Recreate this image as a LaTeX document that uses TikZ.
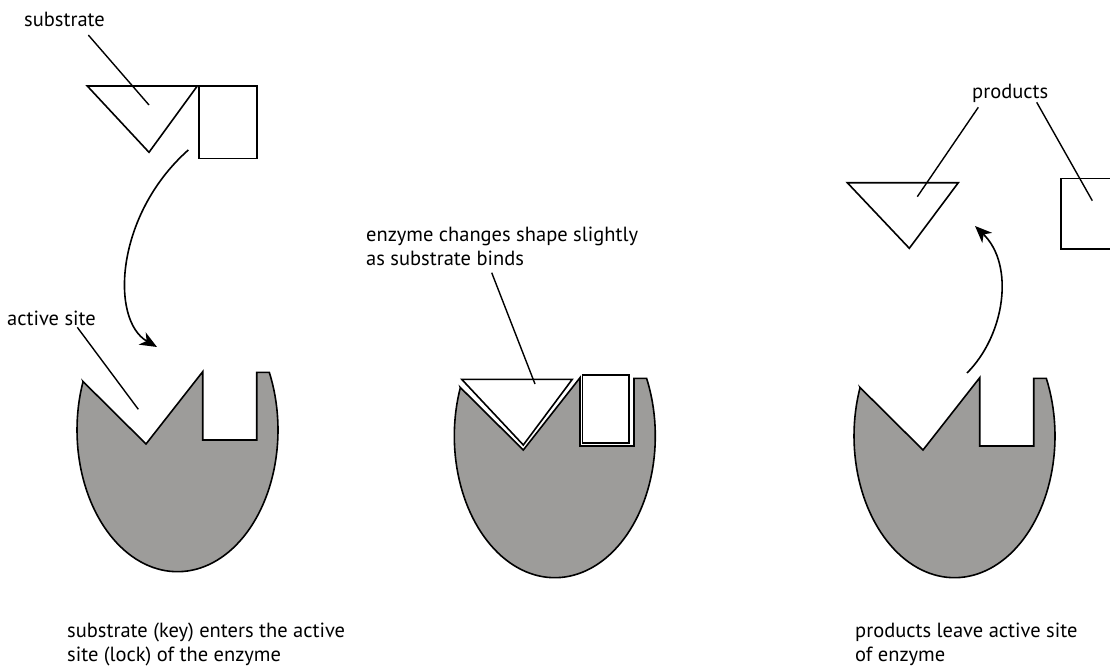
\documentclass[tikz,border=0pt]{standalone}
\usepackage{fontspec}
\setmainfont{PT Sans}
\usetikzlibrary{arrows.meta}
\definecolor{enzgray}{RGB}{157,156,154}
\tikzset{
  enzyme/.style={draw=black, fill=enzgray, line width=1.6, line join=miter},
  piece/.style={draw=black, fill=white, line width=1.6, line join=miter},
  lbl/.style={font=\fontsize{20.5}{24.5}\selectfont, inner sep=0pt, align=left},
  pointer/.style={draw=black, line width=1.4},
  move/.style={draw=black, line width=1.6, -{Stealth[length=17, width=14, inset=5]}}
}
\newcommand\enzymeat[1]{%
  \begin{scope}[shift={#1}]
    \filldraw[enzyme] ({177.5+100.5*cos(200)},{430+141.7*sin(200)}) -- (146,444) -- (202.7,371.7)
      -- (202.7,440) -- (256.7,440) -- (256.7,{430+141.7*sin(-24)})
      -- plot[domain=-24:200, samples=90] ({177.5+100.5*cos(\x)},{430+141.7*sin(\x)}) -- cycle;
  \end{scope}}
\begin{document}
\begin{tikzpicture}[x=1pt, y=-1pt]
\useasboundingbox (0,0) rectangle (1110,669);
\clip (0,0) rectangle (1110,669);
% enzymes
\enzymeat{(0,0)}
\enzymeat{(377.3,6)}
\enzymeat{(777,6)}
% substrate
\filldraw[piece] (87.3,86) -- (197.3,86) -- (149,152.3) -- cycle;
\filldraw[piece] (199,86) rectangle (256.7,158.3);
% bound substrate
\filldraw[piece] (461.7,379.3) -- (572.3,379.3) -- (523.3,445) -- cycle;
\filldraw[piece] (582.3,375) rectangle (629,442.7);
% products
\filldraw[piece] (847.3,182.7) -- (958.3,182.7) -- (909.3,248.3) -- cycle;
\filldraw[piece] (1060.7,178.3) rectangle (1120,249);
% labels
\node[lbl, anchor=base west] (tsub) at (24,27) {substrate};
\node[lbl, anchor=base west] (tact) at (7,325) {active site};
\node[lbl, anchor=base west] (tchg) at (366,265.5) {enzyme changes shape slightly\\as substrate binds};
\node[lbl, anchor=base west] (tprod) at (972,98) {products};
\node[lbl, anchor=base west] (tleft) at (67,661.5) {substrate (key) enters the active\\site (lock) of the enzyme};
\node[lbl, anchor=base west] (tright) at (855,661.5) {products leave active site\\of enzyme};
% pointer lines
\coordinate (s0) at (88.3,35);   \coordinate (s1) at (149,105);
\coordinate (a0) at (77.3,327.3); \coordinate (a1) at (138.3,409.3);
\coordinate (c0) at (491.7,272.7); \coordinate (c1) at (535,384);
\coordinate (p0) at (978.3,107.3); \coordinate (p1) at (917.3,196.7);
\coordinate (q0) at (1036.7,102.3); \coordinate (q1) at (1092.3,200.7);
\draw[pointer] (s0) -- (s1);
\draw[pointer] (a0) -- (a1);
\draw[pointer] (c0) -- (c1);
\draw[pointer] (p0) -- (p1);
\draw[pointer] (q0) -- (q1);
% movement arrows
\coordinate (m0) at (188.3,150); \coordinate (m1) at (157,347);
\coordinate (n0) at (967,373);   \coordinate (n1) at (975,226);
\draw[move] (m0) .. controls (115,215) and (110,320) .. (m1);
\draw[move] (n0) .. controls (1005,335) and (1015,265) .. (n1);
\end{tikzpicture}
\end{document}
